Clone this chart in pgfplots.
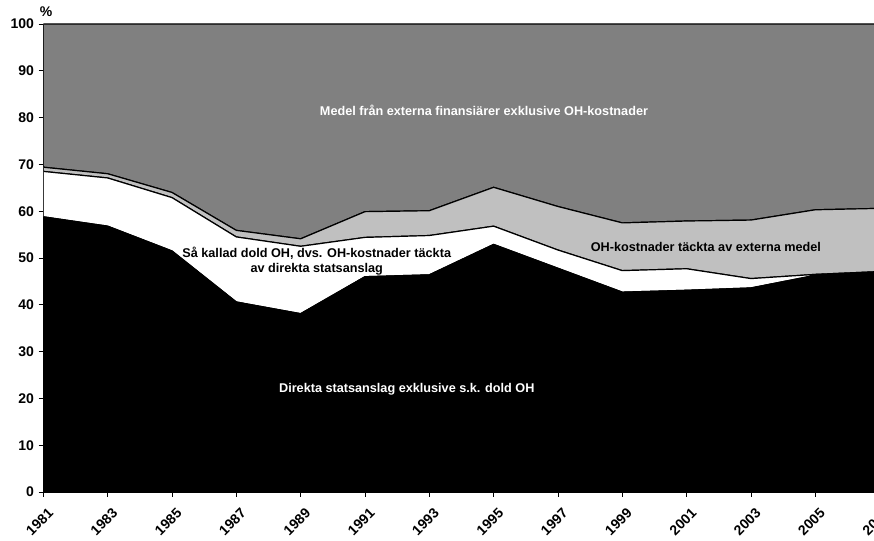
\documentclass[border=0pt]{standalone}
\usepackage{fontspec}
\setmainfont{Liberation Sans}
\usepackage{pgfplots}
\pgfplotsset{compat=1.18}
\usepackage{pgfplotstable}

\definecolor{darkgr}{RGB}{128,128,128}
\definecolor{lightgr}{RGB}{192,192,192}

% shares in percent, stacked: direct grants, hidden OH, OH from external, external excl. OH
\pgfplotstableread{
year direkt dold ohext extern
1981 58.8  9.7  0.9 30.6
1983 56.8 10.3  0.9 32.0
1985 51.5 11.4  1.1 36.0
1987 40.6 13.9  1.4 44.1
1989 38.1 14.4  1.6 45.9
1991 46.0  8.4  5.5 40.1
1993 46.4  8.4  5.3 39.9
1995 52.9  3.9  8.3 34.9
1997 47.8  3.9  9.3 39.0
1999 42.7  4.6 10.2 42.5
2001 43.1  4.6 10.2 42.1
2003 43.6  2.0 12.5 41.9
2005 46.3  0.2 13.8 39.7
2007 47.0  0.1 13.5 39.4
}\andel

\begin{document}
\begin{tikzpicture}[lbl/.style={font=\bfseries\fontsize{9.5}{11.5}\selectfont}]
\begin{axis}[
at={(0,0)}, anchor=south west,
scale only axis,
width=627.2pt, height=351pt,
xmin=1981, xmax=2007,
ymin=0, ymax=100,
stack plots=y,
axis lines*=left,
axis line style={black, line width=0.8pt},
tick align=outside,
major tick length=3.5pt,
tick style={black, line width=0.6pt},
xtick={1981,1983,...,2007},
ytick={0,10,...,100},
/pgf/number format/assume math mode=true,
/pgf/number format/1000 sep={},
tick label style={font=\bfseries\fontsize{10.5}{12}\selectfont},
x tick label style={rotate=45, anchor=north east, yshift=-4pt},
every axis plot/.append style={draw=black, line width=0.9pt},
]
\addplot [fill=black] table [x=year, y=direkt] {\andel} \closedcycle;
\addplot [fill=white] table [x=year, y=dold] {\andel} \closedcycle;
\addplot [fill=lightgr] table [x=year, y=ohext] {\andel} \closedcycle;
\addplot [fill=darkgr] table [x=year, y=extern] {\andel} \closedcycle;

\coordinate (tExtern) at (axis cs:1994.7,81.6);
\coordinate (tDold) at (axis cs:1989.5,49.4);
\coordinate (tOhext) at (axis cs:2001.6,52.3);
\coordinate (tDirekt) at (axis cs:1992.3,21.9);
\coordinate (tTop) at (rel axis cs:0,1);
\end{axis}
\node [lbl, text=white] at (tExtern) {Medel från externa finansiärer exklusive OH-kostnader};
\node [lbl, align=center] at (tDold) {Så kallad dold OH, dvs. OH-kostnader täckta\\av direkta statsanslag};
\node [lbl] at (tOhext) {OH-kostnader täckta av externa medel};
\node [lbl, text=white] at (tDirekt) {Direkta statsanslag exklusive s.k. dold OH};
\node [lbl, font=\bfseries\fontsize{10.5}{12}\selectfont] at (tTop) [xshift=2pt, yshift=9.5pt] {\%};
\pgfresetboundingbox
\useasboundingbox (-32.5pt,-36.75pt) rectangle (623pt,369pt);
\end{tikzpicture}
\end{document}
